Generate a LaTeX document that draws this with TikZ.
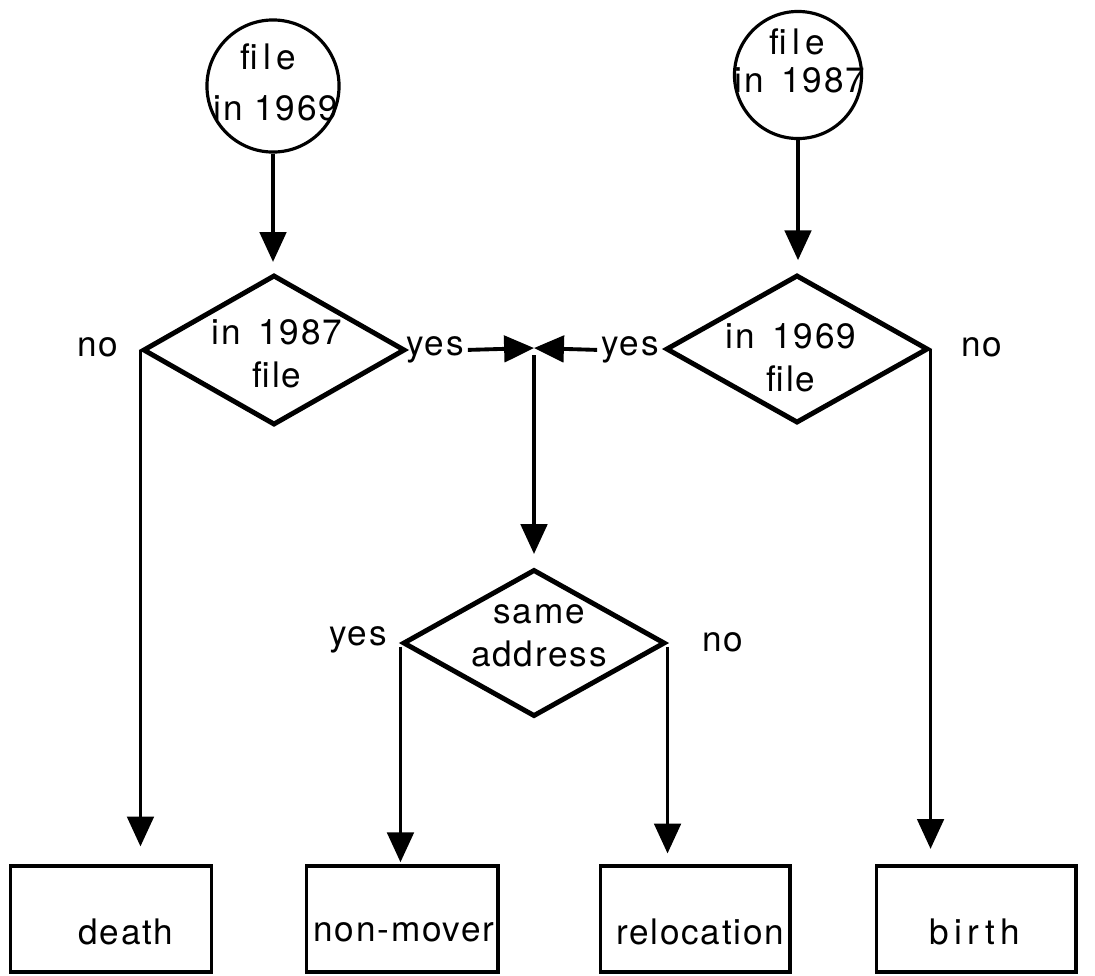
\documentclass[tikz,border=0pt]{standalone}
\usepackage{fontspec}
\setmainfont{TeX Gyre Heros}[LetterSpace=5]
\newfontfamily\widefont{TeX Gyre Heros}[LetterSpace=15]
\usetikzlibrary{arrows.meta,shapes.geometric}

\begin{document}
\begin{tikzpicture}[x=0.01cm, y=-0.01cm, >={Triangle[length=8.5pt,width=7.5pt]},
	lbl/.style={font=\fontsize{10}{12.2}\selectfont, inner sep=0pt, align=center},
	datafile/.style={draw, circle, line width=0.9pt, inner sep=0pt},
	query/.style={draw, diamond, line width=1.4pt, inner sep=0pt, minimum width=2.62cm},
	outcome/.style={draw, rectangle, line width=1.1pt, inner sep=0pt, minimum height=1.06cm},
	flow/.style={->, line width=1.1pt}]
	\useasboundingbox (0,0) rectangle (1095,975);
	% the two files
	\node (c69) [datafile, minimum size=1.32cm] at (273,86) {};
	\node (c69a) [lbl] at (268,57) {\widefont file};
	\node (c69b) [lbl] at (276,108) {in 1969};
	\node (c87) [datafile, minimum size=1.27cm] at (798,75) {};
	\node (c87a) [lbl] at (797,42) {\widefont file};
	\node (c87b) [lbl] at (800,80) {in\enspace 1987};
	% questions
	\node (d87) [query, minimum height=1.5cm] at (274,350) {};
	\node (d87t) [lbl] at (277,354) {in\enspace 1987\\file};
	\node (d69) [query, minimum height=1.48cm] at (797,349) {};
	\node (d69t) [lbl] at (791,358) {in\enspace 1969\\file};
	\node (dsame) [query, minimum height=1.47cm] at (534,643) {};
	\node (dsamet) [lbl] at (539,636) {same\\address};
	% answers
	\node (no1) [lbl] at (98,347) {no};
	\node (yes1) [lbl] at (435,350) {yes};
	\coordinate (join) at (534,348);
	\node (yes2) [lbl] at (630,350) {yes};
	\node (no2) [lbl] at (982,347) {no};
	\node (yes3) [lbl] at (358,640) {yes};
	\node (no3) [lbl] at (723,642) {no};
	% outcomes
	\node (death) [outcome, minimum width=2.01cm] at (111,919) {};
	\node (deatht) [lbl] at (126,932) {death};
	\node (nonmover) [outcome, minimum width=1.91cm] at (402,919) {};
	\node (nonmovert) [lbl] at (404,932) {non-mover};
	\node (reloc) [outcome, minimum width=1.89cm] at (695,919) {};
	\node (reloct) [lbl] at (700,932) {relocation};
	\node (birth) [outcome, minimum width=1.99cm] at (976,919) {};
	\node (birtht) [lbl] at (975,932) {\widefont birth};
	% arrows
	\draw[flow, shorten >=3pt] (c69.south) -- (c69.south |- d87.north);
	\draw[flow, shorten >=3.5pt] (c87.south) -- (c87.south |- d69.north);
	\draw[flow, shorten >=5pt] (d87.west) -- (d87.west |- death.north);
	\draw[flow, shorten <=1pt] (yes1.east) -- (join);
	\draw[flow, shorten <=1pt] (yes2.west) -- (join);
	\draw[flow, shorten <=2pt, shorten >=3.7pt] (join) -- (join |- dsame.north);
	\draw[flow, shorten <=1pt, shorten >=0.5pt] (dsame.west) -- (dsame.west |- nonmover.north);
	\draw[flow, shorten <=1pt, shorten >=3pt] (dsame.east) -- (dsame.east |- reloc.north);
	\draw[flow, shorten >=4.3pt] (d69.east) -- (d69.east |- birth.north);
\end{tikzpicture}
\end{document}
